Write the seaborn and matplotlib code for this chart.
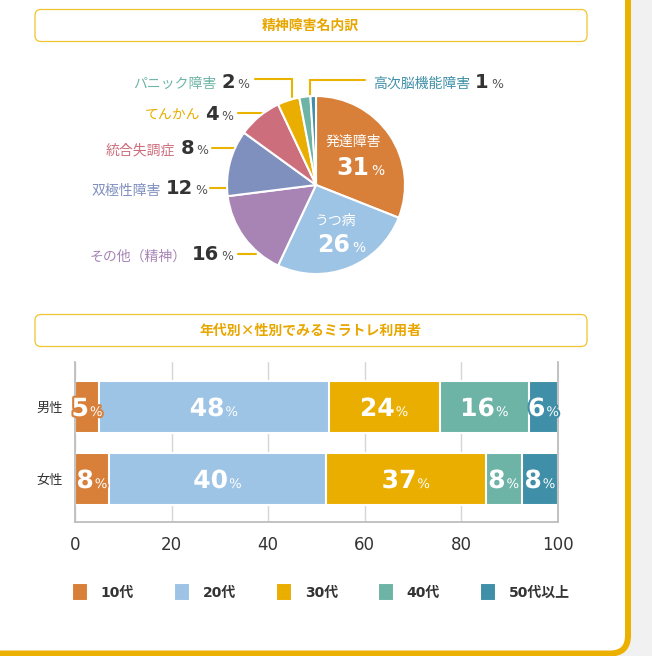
import matplotlib
matplotlib.use("Agg")
import matplotlib.pyplot as plt
import matplotlib.transforms as mtransforms
import matplotlib.patheffects as pe
from matplotlib.patches import FancyBboxPatch
import seaborn as sns
import pandas as pd

# ---------------- data ----------------
pie_names = ["発達障害", "うつ病", "その他（精神）", "双極性障害", "統合失調症", "てんかん", "パニック障害", "高次脳機能障害"]
pie_values = [31, 26, 16, 12, 8, 4, 2, 1]
pie_colors = ["#D8803A", "#9DC3E5", "#A884B5", "#7F8FBE", "#CC6E7C", "#E9AE00", "#6DB4A6", "#3E8FA7"]

genders = ["男性", "女性"]
ages = ["10代", "20代", "30代", "40代", "50代以上"]
age_colors = ["#D8803A", "#9DC3E5", "#E9AE00", "#6DB4A6", "#3E8FA7"]
male_share = [5, 47.5, 23, 18.5, 6]
female_share = [7, 45, 33, 7.5, 7.5]
male_labels = [5, 48, 24, 16, 6]
female_labels = [8, 40, 37, 8, 8]
x_ticks = [0, 20, 40, 60, 80, 100]

title1 = "精神障害名内訳"
title2 = "年代別×性別でみるミラトレ利用者"

# ---------------- style ----------------
sns.set_theme(style="white")
plt.rcParams["font.family"] = ["DejaVu Sans", "Noto Sans CJK JP"]
JP = ["Noto Sans CJK JP", "DejaVu Sans"]
NUM = ["DejaVu Sans", "Noto Sans CJK JP"]
DARK = "#333333"
LINE_Y = "#E9B300"

W, H = 652, 656
fig = plt.figure(figsize=(W / 100, H / 100), dpi=100, facecolor="#F1F1F1")
renderer = fig.canvas.get_renderer()

def fx(x):
    return x / W

def fy(y):
    return 1 - y / H

def pixel_axes(z):
    a = fig.add_axes([0, 0, 1, 1])
    a.set_xlim(0, W)
    a.set_ylim(H, 0)
    a.axis("off")
    a.set_zorder(z)
    a.set_facecolor("none")
    return a

bg = pixel_axes(0)
top = pixel_axes(5)

card = FancyBboxPatch((-40, -40), 668, 693.5, boxstyle="round,pad=0,rounding_size=18",
                      fc="white", ec="#EBB000", lw=4.3)
bg.add_patch(card)

for (y0, txt) in [(9.5, title1), (314.5, title2)]:
    box = FancyBboxPatch((35, y0), 552, 32, boxstyle="round,pad=0,rounding_size=6",
                         fc="white", ec="#F0C430", lw=0.9)
    bg.add_patch(box)
    bg.text(310, y0 + 16, txt, ha="center", va="center", fontsize=10, color="#E8A600",
            family=JP, fontweight="bold")


def measure(s, **kw):
    t = fig.text(0, 0, s, **kw)
    w = t.get_window_extent(renderer).width
    t.remove()
    return w


def group(ax, x, y, parts, align="center", dy=0, effects=None):
    widths = [measure(s, **kw) for s, kw, g in parts]
    total = sum(widths) + sum(g for _, _, g in parts[:-1])
    off = {"center": -total / 2, "right": -total, "left": 0}[align]
    for (s, kw, g), w in zip(parts, widths):
        tr = mtransforms.offset_copy(ax.transData, fig=fig, x=off, y=dy, units="dots")
        t = ax.text(x, y, s, transform=tr, ha="left", va="baseline", **kw)
        if effects is not None:
            t.set_path_effects(effects)
        off += w + g


# ---------------- pie ----------------
R = 89
L = 1.03
cx, cy = 316, 185
side = 2 * R * L
pax = fig.add_axes([fx(cx - side / 2), fy(cy + side / 2), side / W, side / H])
pax.set_zorder(2)
pax.pie(pie_values, colors=pie_colors, startangle=90, counterclock=False,
        wedgeprops=dict(edgecolor="white", linewidth=1.5))
pax.set_xlim(-L, L)
pax.set_ylim(-L, L)
pax.set_facecolor("none")
pax.axis("off")

name_kw = dict(fontsize=10, family=JP)
num_kw = dict(fontsize=14, family=NUM, fontweight="bold", color=DARK)
pct_kw = dict(fontsize=9, family=NUM, color="#555555")

# outside labels: (index, anchor x, baseline y, align)
outside = [
    (6, 249, 88, "right"),
    (5, 233, 119.5, "right"),
    (4, 208, 154.5, "right"),
    (3, 207, 194.5, "right"),
    (2, 233, 260.5, "right"),
    (7, 373, 88, "left"),
]
for idx, ax_x, by, al in outside:
    group(top, ax_x, by, [
        (pie_names[idx], dict(name_kw, color=pie_colors[idx]), 5),
        (str(pie_values[idx]), num_kw, 2),
        ("%", pct_kw, 0),
    ], align=al)

leaders = [
    ([255, 292, 292], [79, 79, 97]),
    ([365, 310, 310], [80, 80, 97]),
    ([238, 262], [112.7, 112.7]),
    ([212, 236], [148, 148]),
    ([210, 227], [188, 188]),
    ([238, 256], [254, 254]),
]
for xs, ys in leaders:
    bg.plot(xs, ys, color=LINE_Y, lw=1.5, solid_joinstyle="miter")

# inside labels
in_name_kw = dict(fontsize=10, family=JP, color="white")
in_num_kw = dict(fontsize=17, family=NUM, fontweight="bold", color="white")
in_pct_kw = dict(fontsize=10, family=NUM, color="white")
top.text(353, 142, pie_names[0], ha="center", va="center", **in_name_kw)
group(top, 360, 175, [(str(pie_values[0]), in_num_kw, 2), ("%", in_pct_kw, 0)])
top.text(335.5, 221, pie_names[1], ha="center", va="center", **in_name_kw)
group(top, 341.5, 251.5, [(str(pie_values[1]), in_num_kw, 2), ("%", in_pct_kw, 0)])

# ---------------- stacked bars ----------------
rows = []
for g, shares, labs in [(genders[0], male_share, male_labels), (genders[1], female_share, female_labels)]:
    for a, s, lab in zip(ages, shares, labs):
        rows.append(dict(gender=g, age=a, share=s, label=lab))
df = pd.DataFrame(rows)
df["cum"] = df.groupby("gender")["share"].cumsum()

bax = fig.add_axes([fx(75), fy(522), (558 - 75) / W, 160 / H])
bax.set_zorder(2)
bax.set_facecolor("none")
for a, c in reversed(list(zip(ages, age_colors))):
    sns.barplot(data=df[df["age"] == a], x="cum", y="gender", order=genders, orient="h",
                color=c, saturation=1, width=0.72, edgecolor="white", linewidth=1.5,
                label=a, ax=bax)
if bax.get_legend() is not None:
    bax.get_legend().remove()

bax.set_xlim(0, 100)
bax.set_ylim(1.597, -0.625)
bax.set_xticks(x_ticks)
bax.set_xticklabels([str(t) for t in x_ticks])
bax.set_xlabel("")
bax.set_ylabel("")
bax.grid(axis="x", color="#D6D6D6", linewidth=1.0)
bax.grid(axis="y", visible=False)
bax.set_axisbelow(True)
for s in ["left", "right", "bottom"]:
    bax.spines[s].set_visible(True)
    bax.spines[s].set_color("#BDBDBD")
    bax.spines[s].set_linewidth(1.3)
bax.spines["top"].set_visible(False)
bax.tick_params(axis="x", length=0, pad=10, labelsize=12, labelcolor=DARK)
bax.tick_params(axis="y", length=0, pad=9, labelsize=9.5, labelcolor=DARK)
for t in bax.get_yticklabels():
    t.set_family(JP)

bar_num_kw = dict(fontsize=18, family=NUM, fontweight="bold", color="white")
bar_pct_kw = dict(fontsize=9.5, family=NUM, color="white")
for gi, g in enumerate(genders):
    sub = df[df["gender"] == g]
    for _, r in sub.iterrows():
        ci = ages.index(r["age"])
        xc = r["cum"] - r["share"] / 2
        group(bax, xc, gi, [(str(r["label"]), bar_num_kw, 1), ("%", bar_pct_kw, 0)],
              dy=-9, effects=[pe.withStroke(linewidth=3, foreground=age_colors[ci])])

# legend
h, l = bax.get_legend_handles_labels()
hm = dict(zip(l, h))
fig.legend([hm[a] for a in ages], ages, loc="center", bbox_to_anchor=(fx(321), fy(592)),
           ncol=5, frameon=False, handlelength=1.15, handleheight=1.65, handletextpad=0.9,
           columnspacing=2.9, prop=dict(family=NUM, size=10, weight="bold"),
           labelcolor=DARK)

fig.savefig("out.png", dpi=100, facecolor=fig.get_facecolor())
